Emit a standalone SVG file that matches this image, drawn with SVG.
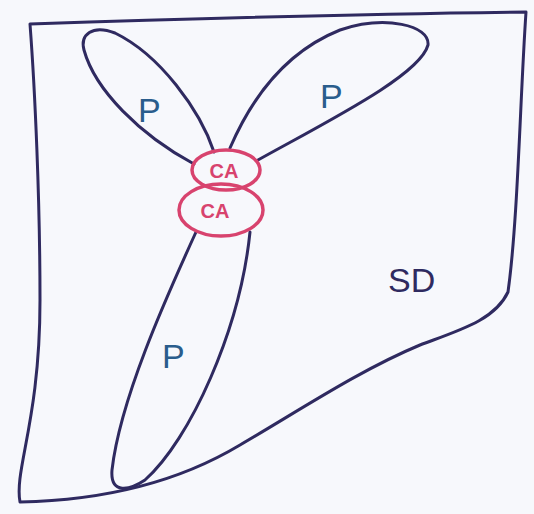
<svg xmlns="http://www.w3.org/2000/svg" width="534" height="514" viewBox="0 0 534 514">
<style>
.ln{fill:none;stroke:#2f2a60;stroke-width:3;stroke-linecap:round;stroke-linejoin:round}
.ca{fill:none;stroke:#d8436e;stroke-width:3.5}
.p{font-family:"Liberation Sans",sans-serif;font-size:34px;fill:#2a5d8c}
.sd{font-family:"Liberation Sans",sans-serif;font-size:34px;fill:#2f2a60}
.cat{font-family:"Liberation Sans",sans-serif;font-size:20px;font-weight:bold;fill:#d8436e;text-anchor:middle}
</style>
<rect width="534" height="514" fill="#f7f8fc"/>
<g id="SD">
<path class="ln" d="M30,24 C150,20 350,14 526,12 C520,100 518,220 508,292 C495,320 460,330 420,345 C360,370 300,410 240,445 C190,475 120,500 20,502 C14,470 40,420 40,300 C40,200 35,90 30,24 Z"/>
<text class="sd" x="388" y="292">SD</text>
</g>
<g id="P1">
<path class="ln" d="M214,152 C200,110 160,55 115,33 C92,24 80,35 84,50 C95,90 140,135 194,164"/>
<text class="p" x="138" y="122">P</text>
</g>
<g id="P2">
<path class="ln" d="M230,148 C255,90 290,50 340,30 C385,15 430,25 428,45 C420,75 330,120 258,160"/>
<text class="p" x="320" y="108">P</text>
</g>
<g id="P3">
<path class="ln" d="M196,232 C165,300 120,400 112,470 C110,495 130,490 145,480 C190,440 240,330 250,232"/>
<text class="p" x="162" y="368">P</text>
</g>
<g id="CA1">
<ellipse class="ca" cx="226" cy="170" rx="34" ry="20"/>
<text class="cat" x="224" y="178">CA</text>
</g>
<g id="CA2">
<ellipse class="ca" cx="221" cy="210" rx="42" ry="26"/>
<text class="cat" x="215" y="218">CA</text>
</g>
</svg>
